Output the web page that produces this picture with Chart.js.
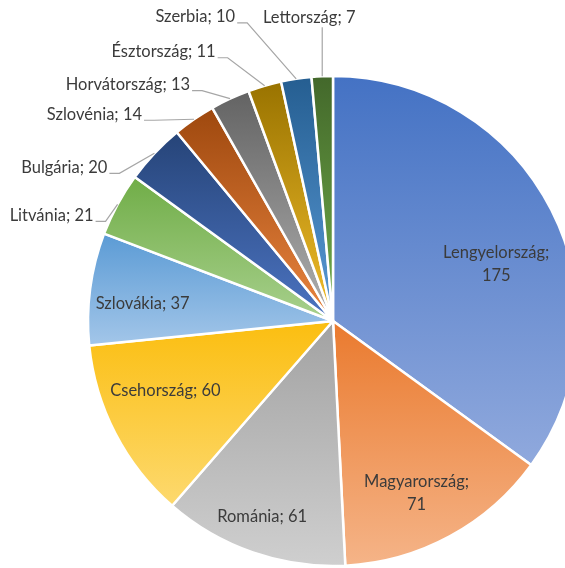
<!DOCTYPE html>
<html><head><meta charset="utf-8">
<script src="https://cdn.jsdelivr.net/npm/chart.js@4.4.1/dist/chart.umd.min.js"></script>
<style>
html,body{margin:0;padding:0;background:#fff;overflow:hidden;width:565px;height:568px}
#wrap{position:absolute;left:0;top:0;width:666px;height:642px}
</style>
</head><body><div id="wrap"><canvas id="c" width="666" height="642"></canvas></div>
<script>
const categories = ['Lengyelország','Magyarország','Románia','Csehország','Szlovákia','Litvánia','Bulgária','Szlovénia','Horvátország','Észtország','Szerbia','Lettország'];
const values = [175, 71, 61, 60, 37, 21, 20, 14, 13, 11, 10, 7];

const topColors = ['#4472C4','#EA7A2E','#A2A2A2','#FBBE10','#5B9BD5','#70AD47','#264478','#9E480E','#636363','#997300','#255E91','#43682B'];
const bottomColors = ['#90A9DD','#F5B488','#CFCFCF','#FDD96E','#A3C6E9','#A8D08D','#4C74C2','#EA8540','#B0B0B0','#F2BE2C','#5A9AD6','#72AE4A'];

const labelPlacement = [
  {inside:true, r:0.706, da:7.7, wrap:true},
  {inside:true, r:0.78, da:2.5, wrap:true},
  {inside:true, r:0.85, da:0.8},
  {inside:true, r:0.74, da:4.9},
  {inside:true, r:0.78, da:-2.5},
  {dx:-24, dy:11},
  {dx:-47, dy:14},
  {dx:-52, dy:-5},
  {dx:-40, dy:-14},
  {dx:-49, dy:-34},
  {dx:-61, dy:-62},
  {dx:-13, dy:-59, vertical:true}
];
const FONT = '16.5px Lato';
const TEXT_COLOR = '#3b3b3b';
const LEADER_COLOR = '#A6A6A6';

const gradientPlugin = {
  id: 'sliceGradient',
  beforeDatasetsDraw(chart) {
    const ctx = chart.ctx;
    const meta = chart.getDatasetMeta(0);
    meta.data.forEach((arc, i) => {
      const p = arc.getProps(['x','y','startAngle','endAngle','outerRadius'], true);
      const ys = [p.y, p.y + Math.sin(p.startAngle) * p.outerRadius, p.y + Math.sin(p.endAngle) * p.outerRadius];
      [-Math.PI/2, Math.PI/2, 3*Math.PI/2, 5*Math.PI/2].forEach(a => {
        if (a >= p.startAngle && a <= p.endAngle) ys.push(p.y + Math.sin(a) * p.outerRadius);
      });
      const minY = Math.min(...ys), maxY = Math.max(...ys);
      const g = ctx.createLinearGradient(0, minY, 0, maxY);
      g.addColorStop(0, topColors[i]);
      g.addColorStop(1, bottomColors[i]);
      arc.options.backgroundColor = g;
    });
  }
};

const labelPlugin = {
  id: 'sliceLabels',
  afterDatasetsDraw(chart) {
    const ctx = chart.ctx;
    const meta = chart.getDatasetMeta(0);
    ctx.save();
    ctx.font = FONT;
    ctx.fillStyle = TEXT_COLOR;
    ctx.textBaseline = 'middle';
    meta.data.forEach((arc, i) => {
      const p = arc.getProps(['x','y','startAngle','endAngle','outerRadius'], true);
      const mid = (p.startAngle + p.endAngle) / 2;
      const lp = labelPlacement[i];
      const name = categories[i], val = String(values[i]);
      if (lp.inside) {
        const a = mid + lp.da * Math.PI / 180;
        const px = p.x + Math.cos(a) * lp.r * p.outerRadius;
        const py = p.y + Math.sin(a) * lp.r * p.outerRadius;
        ctx.textAlign = 'center';
        if (lp.wrap) {
          ctx.fillText(name + ';', px, py - 11.5);
          ctx.fillText(val, px, py + 11.5);
        } else {
          ctx.fillText(name + '; ' + val, px, py);
        }
      } else {
        const ex = p.x + Math.cos(mid) * p.outerRadius;
        const ey = p.y + Math.sin(mid) * p.outerRadius;
        const tx = ex + lp.dx, ty = ey + lp.dy;
        ctx.strokeStyle = LEADER_COLOR;
        ctx.lineWidth = 1.2;
        ctx.beginPath();
        if (lp.vertical) {
          ctx.textAlign = 'center';
          ctx.fillText(name + '; ' + val, tx, ty);
          ctx.moveTo(ex, ty + 10);
          ctx.lineTo(ex, ey);
        } else {
          ctx.textAlign = 'right';
          ctx.fillText(name + '; ' + val, tx, ty);
          ctx.moveTo(tx + 2, ty + 6);
          ctx.lineTo(tx + 12, ty + 6);
          ctx.lineTo(ex, ey);
        }
        ctx.stroke();
      }
    });
    ctx.restore();
  }
};

new Chart(document.getElementById('c'), {
  type: 'pie',
  data: {
    labels: categories,
    datasets: [{
      data: values,
      backgroundColor: topColors,
      borderColor: '#ffffff',
      borderWidth: 2.5,
      radius: 245
    }]
  },
  options: {
    responsive: false,
    animation: false,
    events: [],
    layout: {padding: 0},
    plugins: {legend: {display: false}, tooltip: {enabled: false}}
  },
  plugins: [gradientPlugin, labelPlugin]
});
</script>
</body></html>
